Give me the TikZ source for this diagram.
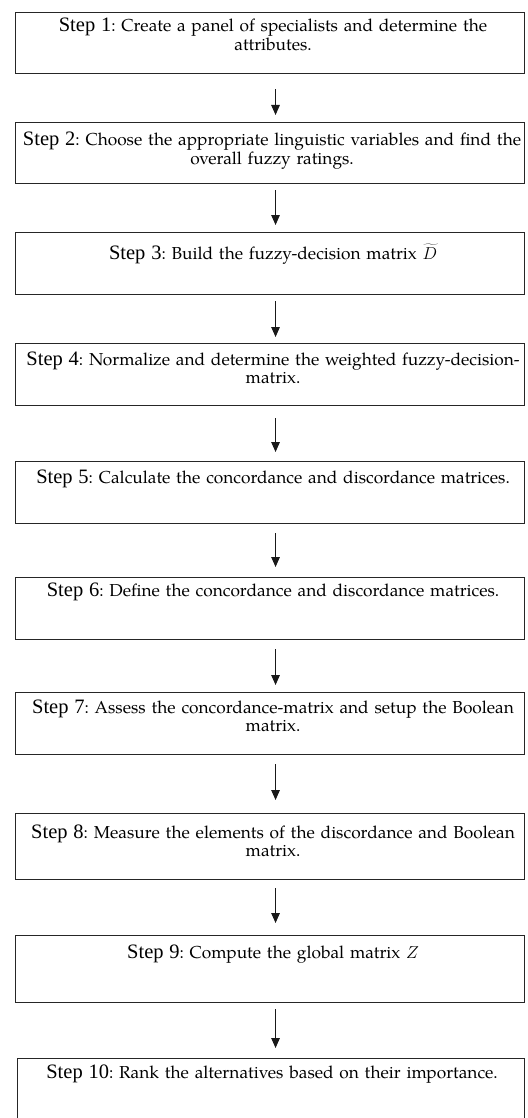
\documentclass[tikz,border=0pt]{standalone}
\usepackage{fontspec}
\setmainfont{TeX Gyre Pagella}
\newfontfamily\stepfont{Liberation Serif}
\usetikzlibrary{arrows.meta}
\frenchspacing
\newcommand{\stp}[1]{{\stepfont\fontsize{20.5}{18.5}\selectfont Step #1}}
\begin{document}
\begin{tikzpicture}[x=1pt,y=-1pt,
  stepbox/.style={draw=black!85, line width=1.1pt, rectangle, anchor=north west,
    minimum width=509pt, inner sep=0pt},
  steptext/.style={anchor=base, inner sep=0pt, text width=520pt, align=center,
    font=\fontsize{17.3}{18.5}\selectfont},
  arr/.style={draw=black!90, line width=1.2pt, -{Triangle[length=10pt,width=8.5pt]}}
]
\clip (0,0) rectangle (527,1118);
\fill[white] (0,0) rectangle (527,1118);

\node[stepbox, minimum height=61pt] (b1) at (15,12) {};
\node[stepbox, minimum height=61pt] (b2) at (15,122) {};
\node[stepbox, minimum height=62pt] (b3) at (15,232) {};
\node[stepbox, minimum height=62pt] (b4) at (15,343) {};
\node[stepbox, minimum height=62pt] (b5) at (15,461) {};
\node[stepbox, minimum height=62pt] (b6) at (15,577) {};
\node[stepbox, minimum height=62pt] (b7) at (15,692) {};
\node[stepbox, minimum height=66pt] (b8) at (15,813) {};
\node[stepbox, minimum height=67pt] (b9) at (15,935) {};
\node[stepbox, minimum height=90pt, minimum width=507pt] (b10) at (17,1058) {};

\node[steptext] (t1) at ([xshift=3pt,yshift=-20pt]b1.north) {\stp{1}: Create a panel of specialists and determine the\\attributes.};
\node[steptext] (t2) at ([xshift=2pt,yshift=-24pt]b2.north) {\stp{2}: Choose the appropriate linguistic variables and find the\\overall fuzzy ratings.};
\node[steptext] (t3) at ([xshift=3pt,yshift=-27pt]b3.north) {\stp{3}: Build the fuzzy-decision matrix $\widetilde{D}$};
\node[steptext] (t4) at ([xshift=3pt,yshift=-22pt]b4.north) {\stp{4}: Normalize and determine the weighted fuzzy-decision-\\matrix.};
\node[steptext] (t5) at ([xshift=3pt,yshift=-22pt]b5.north) {\stp{5}: Calculate the concordance and discordance matrices.};
\node[steptext] (t6) at ([xshift=3pt,yshift=-19pt]b6.north) {\stp{6}: Define the concordance and discordance matrices.};
\node[steptext] (t7) at ([xshift=3pt,yshift=-21pt]b7.north) {\stp{7}: Assess the concordance-matrix and setup the Boolean\\matrix.};
\node[steptext] (t8) at ([xshift=3pt,yshift=-25pt]b8.north) {\stp{8}: Measure the elements of the discordance and Boolean\\matrix.};
\node[steptext] (t9) at ([xshift=3pt,yshift=-23pt]b9.north) {\stp{9}: Compute the global matrix $Z$};
\node[steptext] (t10) at ([xshift=1pt,yshift=-20pt]b10.north) {\stp{10}: Rank the alternatives based on their importance.};

\draw[arr] ([xshift=5.5pt,yshift=-15pt]b1.south) -- ([xshift=5.5pt,yshift=7pt]b2.north);
\draw[arr] ([xshift=5.5pt,yshift=-6pt]b2.south) -- ([xshift=5.5pt,yshift=7pt]b3.north);
\draw[arr] ([xshift=5.5pt,yshift=-6pt]b3.south) -- ([xshift=5.5pt,yshift=6pt]b4.north);
\draw[arr] ([xshift=5.5pt,yshift=-12pt]b4.south) -- ([xshift=5.5pt,yshift=9pt]b5.north);
\draw[arr] ([xshift=5.5pt,yshift=-9pt]b5.south) -- ([xshift=5.5pt,yshift=10pt]b6.north);
\draw[arr] ([xshift=5.5pt,yshift=-9pt]b6.south) -- ([xshift=5.5pt,yshift=7pt]b7.north);
\draw[arr] ([xshift=5.5pt,yshift=-9pt]b7.south) -- ([xshift=5.5pt,yshift=13pt]b8.north);
\draw[arr] ([xshift=5.5pt,yshift=-8pt]b8.south) -- ([xshift=5.5pt,yshift=12pt]b9.north);
\draw[arr] ([xshift=5.5pt,yshift=-6pt]b9.south) -- ([xshift=4.5pt,yshift=10pt]b10.north);
\end{tikzpicture}
\end{document}
